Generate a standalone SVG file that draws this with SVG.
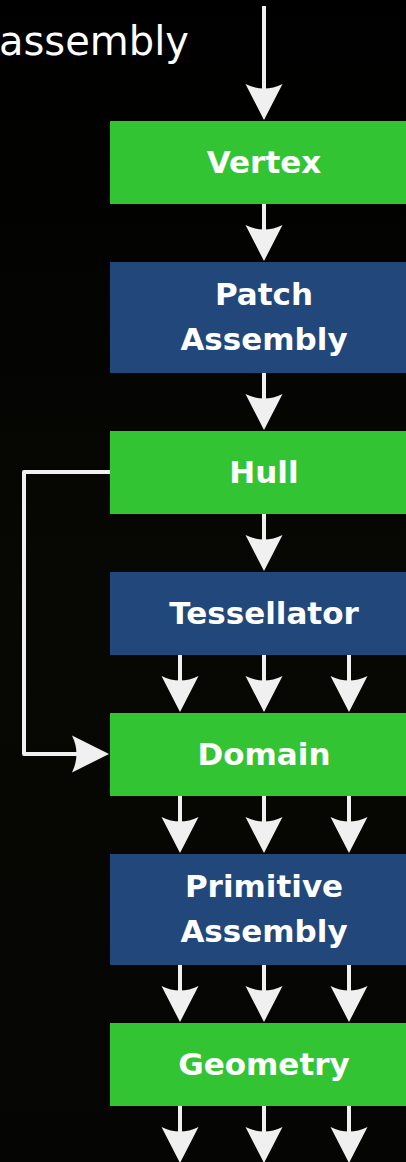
<svg xmlns="http://www.w3.org/2000/svg" width="406" height="1162" viewBox="0 0 406 1162">
  <defs>
    <linearGradient id="bg" x1="0" y1="0" x2="0" y2="1">
      <stop offset="0" stop-color="#000000"/>
      <stop offset="0.5" stop-color="#070703"/>
      <stop offset="1" stop-color="#050503"/>
    </linearGradient>
    <!-- down-pointing arrowhead, tip at origin -->
    <path id="headDown" d="M0 0 L-18.5 -36 Q0 -27 18.5 -36 Z"/>
    <style>
      .green { fill: #33c433; }
      .blue { fill: #21477b; }
      .lbl { font-family: "DejaVu Sans", "Open Sans", sans-serif; font-weight: bold; font-size: 31px; fill: #ffffff; text-anchor: middle; }
      .shaft { stroke: #f0f0f0; stroke-width: 4; fill: none; }
      .head { fill: #f0f0f0; }
    </style>
  </defs>

  <rect width="406" height="1162" fill="url(#bg)"/>

  <text x="-1" y="55" font-family="'DejaVu Sans', 'Open Sans', sans-serif" font-size="40" fill="#ffffff">assembly</text>

  <g id="connectors">
    <!-- input into Vertex -->
    <line class="shaft" x1="264" y1="6" x2="264" y2="100"/>
    <use href="#headDown" class="head" x="264" y="120"/>
    <!-- Vertex to Patch Assembly -->
    <line class="shaft" x1="264" y1="204" x2="264" y2="240"/>
    <use href="#headDown" class="head" x="264" y="261"/>
    <!-- Patch Assembly to Hull -->
    <line class="shaft" x1="264" y1="373" x2="264" y2="410"/>
    <use href="#headDown" class="head" x="264" y="430"/>
    <!-- Hull to Tessellator -->
    <line class="shaft" x1="264" y1="514" x2="264" y2="551"/>
    <use href="#headDown" class="head" x="264" y="571"/>
    <!-- Tessellator to Domain -->
    <line class="shaft" x1="180" y1="655" x2="180" y2="692"/>
    <use href="#headDown" class="head" x="180" y="712"/>
    <line class="shaft" x1="264" y1="655" x2="264" y2="692"/>
    <use href="#headDown" class="head" x="264" y="712"/>
    <line class="shaft" x1="349" y1="655" x2="349" y2="692"/>
    <use href="#headDown" class="head" x="349" y="712"/>
    <!-- Domain to Primitive Assembly -->
    <line class="shaft" x1="180" y1="796" x2="180" y2="833"/>
    <use href="#headDown" class="head" x="180" y="853"/>
    <line class="shaft" x1="264" y1="796" x2="264" y2="833"/>
    <use href="#headDown" class="head" x="264" y="853"/>
    <line class="shaft" x1="349" y1="796" x2="349" y2="833"/>
    <use href="#headDown" class="head" x="349" y="853"/>
    <!-- Primitive Assembly to Geometry -->
    <line class="shaft" x1="180" y1="965" x2="180" y2="1002"/>
    <use href="#headDown" class="head" x="180" y="1022"/>
    <line class="shaft" x1="264" y1="965" x2="264" y2="1002"/>
    <use href="#headDown" class="head" x="264" y="1022"/>
    <line class="shaft" x1="349" y1="965" x2="349" y2="1002"/>
    <use href="#headDown" class="head" x="349" y="1022"/>
    <!-- Geometry outputs -->
    <line class="shaft" x1="180" y1="1106" x2="180" y2="1143"/>
    <use href="#headDown" class="head" x="180" y="1163"/>
    <line class="shaft" x1="264" y1="1106" x2="264" y2="1143"/>
    <use href="#headDown" class="head" x="264" y="1163"/>
    <line class="shaft" x1="349" y1="1106" x2="349" y2="1143"/>
    <use href="#headDown" class="head" x="349" y="1163"/>
    <!-- Hull bypass into Domain -->
    <path class="shaft" d="M110 472 H24 V754 H90" stroke-linejoin="round"/>
    <path class="head" d="M109 754 L72 735.5 Q81 754 72 772.5 Z"/>
  </g>

  <g id="vertex">
    <rect class="green" x="110" y="121" width="300" height="83"/>
    <text class="lbl" x="264" y="173">Vertex</text>
  </g>
  <g id="patch-assembly">
    <rect class="blue" x="110" y="262" width="300" height="111"/>
    <text class="lbl" x="264" y="305">Patch</text>
    <text class="lbl" x="264" y="350">Assembly</text>
  </g>
  <g id="hull">
    <rect class="green" x="110" y="431" width="300" height="83"/>
    <text class="lbl" x="264" y="483">Hull</text>
  </g>
  <g id="tessellator">
    <rect class="blue" x="110" y="572" width="300" height="83"/>
    <text class="lbl" x="264" y="624">Tessellator</text>
  </g>
  <g id="domain">
    <rect class="green" x="110" y="713" width="300" height="83"/>
    <text class="lbl" x="264" y="765">Domain</text>
  </g>
  <g id="primitive-assembly">
    <rect class="blue" x="110" y="854" width="300" height="111"/>
    <text class="lbl" x="264" y="897">Primitive</text>
    <text class="lbl" x="264" y="942">Assembly</text>
  </g>
  <g id="geometry">
    <rect class="green" x="110" y="1023" width="300" height="83"/>
    <text class="lbl" x="264" y="1075">Geometry</text>
  </g>
</svg>
